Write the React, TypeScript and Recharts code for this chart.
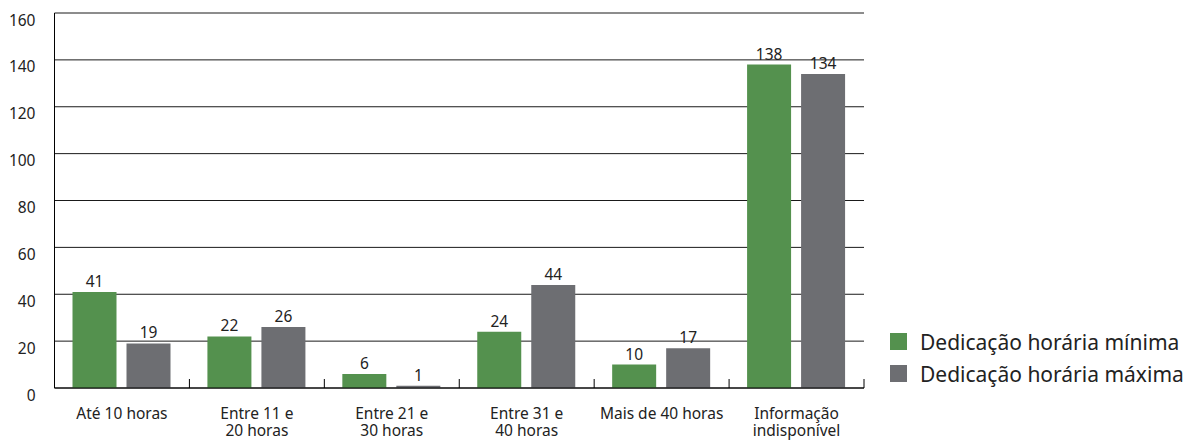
import React from 'react';
import { BarChart, Bar, XAxis, YAxis, CartesianGrid, LabelList } from 'recharts';

const categories = [
  'Até 10 horas',
  'Entre 11 e\n20 horas',
  'Entre 21 e\n30 horas',
  'Entre 31 e\n40 horas',
  'Mais de 40 horas',
  'Informação\nindisponível',
];
const minima = [41, 22, 6, 24, 10, 138];
const maxima = [19, 26, 1, 44, 17, 134];
const yTicks = [0, 20, 40, 60, 80, 100, 120, 140, 160];

const seriesNames = ['Dedicação horária mínima', 'Dedicação horária máxima'];
const GREEN = '#54914e';
const GRAY = '#6d6e72';
const FONT = '"Noto Sans", "Open Sans", sans-serif';

const data = categories.map((c, i) => ({ name: c, min: minima[i], max: maxima[i] }));

const XTick = (props: any) => {
  const { x, y, payload, width, visibleTicksCount } = props;
  const band = width && visibleTicksCount ? width / visibleTicksCount : 135;
  const lines = String(payload.value).split('\n');
  return (
    <g>
      <line x1={x + band / 2} x2={x + band / 2} y1={y} y2={y - 9} stroke="#000" />
      {lines.map((l, i) => (
        <text key={i} x={x} y={y + 30.5 + i * 17.5} textAnchor="middle" fontSize={15.5} fill="#222" fontFamily={FONT}>
          {l}
        </text>
      ))}
    </g>
  );
};

const YTick = (props: any) => {
  const { x, y, payload } = props;
  return (
    <text x={x} y={y + 12.5} textAnchor="end" fontSize={15.5} fill="#222" fontFamily={FONT}>
      {payload.value}
    </text>
  );
};

const ChartLegend = () => (
  <div style={{ position: 'absolute', left: 890, top: 325.5, fontFamily: FONT, fontSize: 21, color: '#222' }}>
    {[GREEN, GRAY].map((c, i) => (
      <div key={i} style={{ display: 'flex', alignItems: 'center', height: 32, whiteSpace: 'nowrap' }}>
        <span style={{ display: 'inline-block', width: 17, height: 17, background: c, marginRight: 13 }} />
        <span>{seriesNames[i]}</span>
      </div>
    ))}
  </div>
);

export default function App() {
  return (
    <div style={{ position: 'absolute', left: 0, top: 0, width: 1196, height: 440, background: '#fff' }}>
      <BarChart
        width={1196}
        height={440}
        data={data}
        margin={{ top: 13, right: 332, left: 0, bottom: 0 }}
        barCategoryGap={18}
        barGap={10}
      >
        <CartesianGrid vertical={false} stroke="#1a1a1a" />
        <XAxis
          dataKey="name"
          interval={0}
          tickSize={0}
          tickMargin={0}
          tick={<XTick />}
          axisLine={{ stroke: '#000' }}
          height={52}
        />
        <YAxis
          domain={[0, 160]}
          ticks={yTicks}
          width={54.5}
          tickLine={false}
          tickSize={6}
          tickMargin={13}
          tick={<YTick />}
          axisLine={{ stroke: '#000' }}
        />
        <Bar dataKey="min" name={seriesNames[0]} fill={GREEN} isAnimationActive={false}>
          <LabelList dataKey="min" position="top" offset={5} fontSize={15.5} fill="#222" fontFamily={FONT} />
        </Bar>
        <Bar dataKey="max" name={seriesNames[1]} fill={GRAY} isAnimationActive={false}>
          <LabelList dataKey="max" position="top" offset={5} fontSize={15.5} fill="#222" fontFamily={FONT} />
        </Bar>
      </BarChart>
      <ChartLegend />
    </div>
  );
}
